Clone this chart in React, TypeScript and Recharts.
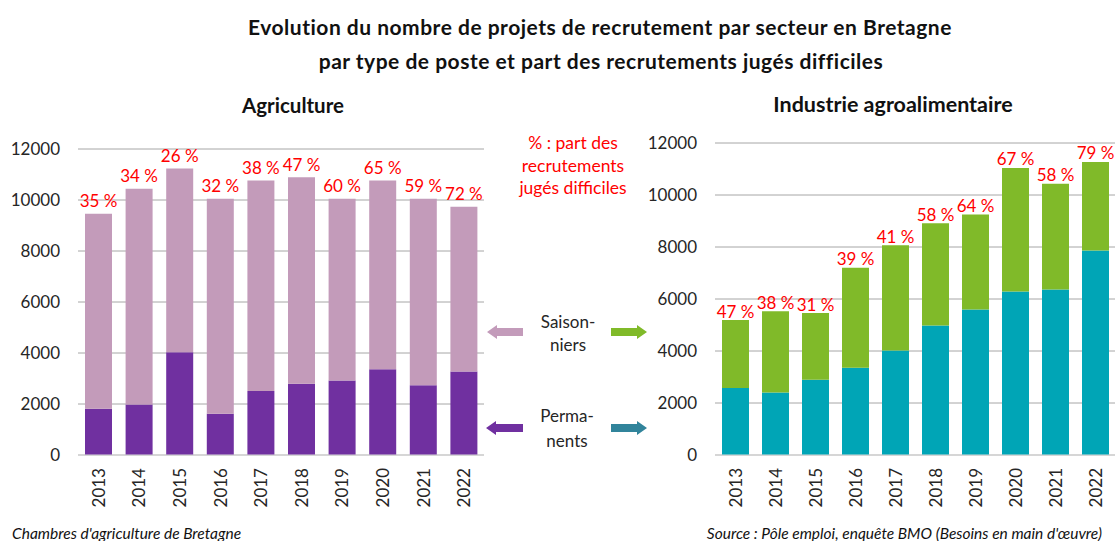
import { BarChart, Bar, XAxis, YAxis, CartesianGrid, LabelList } from "recharts";

const years = ["2013", "2014", "2015", "2016", "2017", "2018", "2019", "2020", "2021", "2022"];

// Agriculture
const agriPermanents = [1810, 1980, 4030, 1620, 2510, 2790, 2920, 3360, 2740, 3270];
const agriSaisonniers = [7650, 8460, 7210, 8430, 8250, 8100, 7130, 7400, 7310, 6470];
const agriDifficiles = [35, 34, 26, 32, 38, 47, 60, 65, 59, 72];

// Industrie agroalimentaire
const iaaPermanents = [2580, 2400, 2890, 3360, 4020, 4980, 5600, 6290, 6370, 7870];
const iaaSaisonniers = [2610, 3130, 2570, 3840, 4050, 3930, 3650, 4750, 4060, 3400];
const iaaDifficiles = [47, 38, 31, 39, 41, 58, 64, 67, 58, 79];

const yTicks = [0, 2000, 4000, 6000, 8000, 10000, 12000];

const FONT = "Lato, 'Open Sans', sans-serif";
const TEXT = "#262626";
const RED = "#ff0000";

const buildRows = (perm: number[], sais: number[], pct: number[]) =>
  years.map((year, i) => ({ year, perm: perm[i], sais: sais[i], pct: pct[i] }));

const agriRows = buildRows(agriPermanents, agriSaisonniers, agriDifficiles);
const iaaRows = buildRows(iaaPermanents, iaaSaisonniers, iaaDifficiles);

const YearTick = (props: any) => {
  const { x, y, payload } = props;
  return (
    <text
      x={x}
      y={y}
      transform={`rotate(-90, ${x}, ${y})`}
      textAnchor="end"
      dominantBaseline="central"
      fontSize={17}
      fontFamily={FONT}
      fill={TEXT}
    >
      {payload.value}
    </text>
  );
};

function Panel({
  rows,
  permColor,
  saisColor,
  width,
  top,
  left,
  right,
  labelGap,
}: {
  rows: any[];
  permColor: string;
  saisColor: string;
  width: number;
  top: number;
  left: number;
  right: number;
  labelGap: number;
}) {
  const bottomPlot = 455;
  return (
    <BarChart
      width={width}
      height={541}
      data={rows}
      margin={{ top, right, left, bottom: 541 - bottomPlot - 60 }}
      barCategoryGap={0}
    >
      <CartesianGrid vertical={false} stroke="#a6a6a6" />
      <XAxis
        dataKey="year"
        height={60}
        axisLine={{ stroke: "#d9d9d9" }}
        tickLine={false}
        tickMargin={7}
        interval={0}
        tick={<YearTick />}
      />
      <YAxis
        width={60}
        domain={[0, 12000]}
        ticks={yTicks}
        axisLine={false}
        tickLine={false}
        tickMargin={12}
        tick={{ fontSize: 17, fontFamily: FONT, fill: TEXT }}
      />
      <Bar dataKey="perm" stackId="a" fill={permColor} barSize={27} isAnimationActive={false} />
      <Bar dataKey="sais" stackId="a" fill={saisColor} barSize={27} isAnimationActive={false}>
        <LabelList
          dataKey="pct"
          content={(p: any) => (
            <text
              x={Number(p.x) + Number(p.width) / 2}
              y={Number(p.y) - labelGap}
              textAnchor="middle"
              dominantBaseline="central"
              fontSize={17}
              fontFamily={FONT}
              fill={RED}
            >
              {`${p.value} %`}
            </text>
          )}
        />
      </Bar>
    </BarChart>
  );
}

const centered = (x: number, y: number, extra: any = {}) => ({
  position: "absolute" as const,
  left: x,
  top: y,
  transform: "translate(-50%, -50%)",
  whiteSpace: "nowrap" as const,
  fontFamily: FONT,
  ...extra,
});

const titleStyle = { fontSize: 21, fontWeight: 700, color: "#111", letterSpacing: 0.5 };

export default function App() {
  return (
    <div
      style={{
        position: "absolute",
        left: 0,
        top: 0,
        width: 1115,
        height: 541,
        overflow: "hidden",
        background: "#fff",
        fontFamily: FONT,
      }}
    >
      <div style={{ position: "absolute", left: 0, top: 0 }}>
        <Panel
          rows={agriRows}
          permColor="#7030a0"
          saisColor="#c39bba"
          width={500}
          top={149}
          left={18}
          right={16}
          labelGap={13}
        />
      </div>
      <div style={{ position: "absolute", left: 640, top: 0 }}>
        <Panel
          rows={iaaRows}
          permColor="#00a5b6"
          saisColor="#80ba29"
          width={475}
          top={143}
          left={15}
          right={0}
          labelGap={9}
        />
      </div>

      <div style={centered(600, 26, titleStyle)}>
        Evolution du nombre de projets de recrutement par secteur en Bretagne
      </div>
      <div style={centered(601, 60, titleStyle)}>
        par type de poste et part des recrutements jugés difficiles
      </div>
      <div style={centered(293, 105, { fontSize: 20.5, fontWeight: 700, color: "#111" })}>Agriculture</div>
      <div style={centered(893, 104, { fontSize: 21.5, fontWeight: 700, color: "#111" })}>
        Industrie agroalimentaire
      </div>

      <div style={centered(573, 142, { fontSize: 17.5, color: RED })}>% : part des</div>
      <div style={centered(573, 165, { fontSize: 17.5, color: RED })}>recrutements</div>
      <div style={centered(573, 187, { fontSize: 17.5, color: RED })}>jugés difficiles</div>

      <div style={centered(568, 321, { fontSize: 17, color: TEXT })}>Saison-</div>
      <div style={centered(568, 344, { fontSize: 17, color: TEXT })}>niers</div>
      <div style={centered(567, 415, { fontSize: 17, color: TEXT })}>Perma-</div>
      <div style={centered(567, 440, { fontSize: 17, color: TEXT })}>nents</div>

      <svg
        width={1115}
        height={541}
        style={{ position: "absolute", left: 0, top: 0, pointerEvents: "none" }}
      >
        <polygon points="487,332 497,325 497,328 523,328 523,336 497,336 497,339" fill="#c39bba" />
        <polygon points="647,332 637,325 637,328 611,328 611,336 637,336 637,339" fill="#80ba29" />
        <polygon points="486,428 496,421 496,424 523,424 523,432 496,432 496,435" fill="#7030a0" />
        <polygon points="647,428 637,421 637,424 611,424 611,432 637,432 637,435" fill="#31849b" />
      </svg>

      <div
        style={{
          position: "absolute",
          left: 12,
          top: 533,
          transform: "translateY(-50%)",
          fontSize: 15.5,
          fontStyle: "italic",
          color: "#111",
          whiteSpace: "nowrap",
        }}
      >
        Chambres d'agriculture de Bretagne
      </div>
      <div
        style={{
          position: "absolute",
          right: 13,
          top: 533,
          transform: "translateY(-50%)",
          fontSize: 15.5,
          fontStyle: "italic",
          color: "#111",
          whiteSpace: "nowrap",
        }}
      >
        Source : Pôle emploi, enquête BMO (Besoins en main d'œuvre)
      </div>
    </div>
  );
}
